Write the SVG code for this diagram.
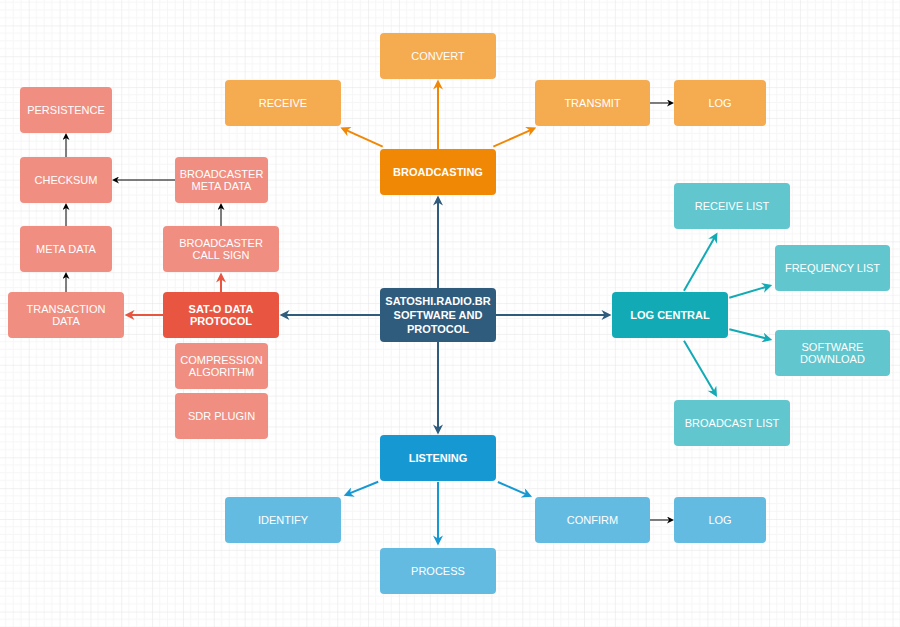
<svg xmlns="http://www.w3.org/2000/svg" width="900" height="627" viewBox="0 0 900 627">
<defs>
  <pattern id="grid" x="28.7" y="25.4" width="30.85" height="30.85" patternUnits="userSpaceOnUse">
    <path d="M7.71 0V30.85M15.42 0V30.85M23.14 0V30.85M0 7.71H30.85M0 15.42H30.85M0 23.14H30.85" stroke="#f6f6f6" stroke-width="1" fill="none"/>
    <path d="M0 0V30.85M0 0H30.85" stroke="#e4e4e4" stroke-width="1" fill="none"/>
  </pattern>
  <marker id="aRed" viewBox="0 0 10 10" markerUnits="userSpaceOnUse" markerWidth="11" markerHeight="10" refX="5" refY="5" orient="auto"><path d="M0,0 L10,5 L0,10 L3,5 Z" fill="#E85642"/></marker>
  <marker id="aDark" viewBox="0 0 10 10" markerUnits="userSpaceOnUse" markerWidth="11" markerHeight="10" refX="5" refY="5" orient="auto"><path d="M0,0 L10,5 L0,10 L3,5 Z" fill="#2F5B7C"/></marker>
  <marker id="aOrange" viewBox="0 0 10 10" markerUnits="userSpaceOnUse" markerWidth="11" markerHeight="10" refX="5" refY="5" orient="auto"><path d="M0,0 L10,5 L0,10 L3,5 Z" fill="#F08705"/></marker>
  <marker id="aTeal" viewBox="0 0 10 10" markerUnits="userSpaceOnUse" markerWidth="11" markerHeight="10" refX="5" refY="5" orient="auto"><path d="M0,0 L10,5 L0,10 L3,5 Z" fill="#12AAB5"/></marker>
  <marker id="aBlue" viewBox="0 0 10 10" markerUnits="userSpaceOnUse" markerWidth="11" markerHeight="10" refX="5" refY="5" orient="auto"><path d="M0,0 L10,5 L0,10 L3,5 Z" fill="#1699D3"/></marker>
  <marker id="aBlack" viewBox="0 0 10 10" markerUnits="userSpaceOnUse" markerWidth="7" markerHeight="7" refX="5" refY="5" orient="auto"><path d="M0,0 L10,5 L0,10 L3,5 Z" fill="#000000"/></marker>
</defs>
<style>
  text { font-family: "Liberation Sans", Arial, Helvetica, sans-serif; font-size: 11px; fill: #ffffff; text-anchor: middle; }
  .b { font-weight: bold; }
  rect { rx: 4px; ry: 4px; }
  .salmon { fill: #F08E81; }
  .red { fill: #E85642; }
  .orl { fill: #F5AB50; }
  .ord { fill: #F08705; }
  .dark { fill: #2F5B7C; }
  .tll { fill: #61C6CE; }
  .tld { fill: #12AAB5; }
  .bll { fill: #64BBE2; }
  .bld { fill: #1699D3; }
  line { fill: none; }
  .cRed { stroke: #E85642; stroke-width: 2; marker-end: url(#aRed); }
  .cDark { stroke: #2F5B7C; stroke-width: 2; marker-end: url(#aDark); }
  .cOrange { stroke: #F08705; stroke-width: 2; marker-end: url(#aOrange); }
  .cTeal { stroke: #12AAB5; stroke-width: 2; marker-end: url(#aTeal); }
  .cBlue { stroke: #1699D3; stroke-width: 2; marker-end: url(#aBlue); }
  .cBlack { stroke: #000000; stroke-width: 1; marker-end: url(#aBlack); }
</style>
<rect x="0" y="0" width="900" height="627" fill="#ffffff" style="rx:0;ry:0"/>
<rect x="0" y="0" width="900" height="627" fill="url(#grid)" style="rx:0;ry:0"/>

<g id="connectors">
  <line class="cBlack" x1="66" y1="157" x2="66" y2="136.5"/>
  <line class="cBlack" x1="66" y1="226" x2="66" y2="206.5"/>
  <line class="cBlack" x1="66" y1="292" x2="66" y2="275.5"/>
  <line class="cBlack" x1="175" y1="180" x2="115.5" y2="180"/>
  <line class="cBlack" x1="221" y1="226" x2="221" y2="206.5"/>
  <line class="cBlack" x1="650" y1="103" x2="670.5" y2="103"/>
  <line class="cBlack" x1="650" y1="520" x2="670.5" y2="520"/>
  <line class="cRed" x1="221" y1="292" x2="221" y2="277.5"/>
  <line class="cRed" x1="163" y1="315" x2="129.5" y2="315"/>
  <line class="cDark" x1="380" y1="315" x2="284.5" y2="315"/>
  <line class="cDark" x1="438" y1="288" x2="438" y2="200.5"/>
  <line class="cDark" x1="438" y1="342" x2="438" y2="429.5"/>
  <line class="cDark" x1="496" y1="315" x2="606.5" y2="315"/>
  <line class="cOrange" x1="438" y1="149" x2="438" y2="84.5"/>
  <line class="cOrange" x1="382.7" y1="146.7" x2="345" y2="129.6"/>
  <line class="cOrange" x1="493.3" y1="146.7" x2="531.7" y2="129.55"/>
  <line class="cTeal" x1="684" y1="290.7" x2="715" y2="236.8"/>
  <line class="cTeal" x1="729.3" y1="297.7" x2="767.4" y2="286.5"/>
  <line class="cTeal" x1="729.3" y1="329.3" x2="767.4" y2="338.7"/>
  <line class="cTeal" x1="684" y1="340.7" x2="714.5" y2="392.6"/>
  <line class="cBlue" x1="378.2" y1="481.7" x2="348.3" y2="493.9"/>
  <line class="cBlue" x1="438" y1="482" x2="438" y2="540.5"/>
  <line class="cBlue" x1="497.9" y1="482" x2="527.45" y2="494.8"/>
</g>

<g id="persistence"><rect class="salmon" x="20" y="87" width="92" height="46"/><text x="66" y="114">PERSISTENCE</text></g>
<g id="checksum"><rect class="salmon" x="20" y="157" width="92" height="46"/><text x="66" y="184">CHECKSUM</text></g>
<g id="broadcaster-meta-data"><rect class="salmon" x="175" y="157" width="93" height="46"/><text x="221.5" y="178">BROADCASTER</text><text x="221.5" y="190.4">META DATA</text></g>
<g id="meta-data"><rect class="salmon" x="20" y="226" width="92" height="46"/><text x="66" y="253">META DATA</text></g>
<g id="broadcaster-call-sign"><rect class="salmon" x="163" y="226" width="116" height="46"/><text x="221" y="247">BROADCASTER</text><text x="221" y="259.4">CALL SIGN</text></g>
<g id="transaction-data"><rect class="salmon" x="8" y="292" width="116" height="46"/><text x="66" y="313">TRANSACTION</text><text x="66" y="325.4">DATA</text></g>
<g id="sat-o-data-protocol"><rect class="red" x="163" y="292" width="116" height="46"/><text class="b" x="221" y="313">SAT-O DATA</text><text class="b" x="221" y="325.4">PROTOCOL</text></g>
<g id="compression-algorithm"><rect class="salmon" x="175" y="343" width="93" height="46"/><text x="221.5" y="364">COMPRESSION</text><text x="221.5" y="376.4">ALGORITHM</text></g>
<g id="sdr-plugin"><rect class="salmon" x="175" y="393" width="93" height="46"/><text x="221.5" y="420">SDR PLUGIN</text></g>

<g id="convert"><rect class="orl" x="380" y="33" width="116" height="46"/><text x="438" y="60">CONVERT</text></g>
<g id="receive"><rect class="orl" x="225" y="80" width="116" height="46"/><text x="283" y="107">RECEIVE</text></g>
<g id="transmit"><rect class="orl" x="535" y="80" width="115" height="46"/><text x="592.5" y="107">TRANSMIT</text></g>
<g id="log-broadcast"><rect class="orl" x="674" y="80" width="92" height="46"/><text x="720" y="107">LOG</text></g>
<g id="broadcasting"><rect class="ord" x="380" y="149" width="116" height="46"/><text class="b" x="438" y="176">BROADCASTING</text></g>

<g id="central"><rect class="dark" x="380" y="288" width="116" height="54"/><text class="b" x="438" y="305">SATOSHI.RADIO.BR</text><text class="b" x="438" y="319">SOFTWARE AND</text><text class="b" x="438" y="333">PROTOCOL</text></g>

<g id="log-central"><rect class="tld" x="612" y="292" width="116" height="46"/><text class="b" x="670" y="319">LOG CENTRAL</text></g>
<g id="receive-list"><rect class="tll" x="674" y="183" width="116" height="46"/><text x="732" y="210">RECEIVE LIST</text></g>
<g id="frequency-list"><rect class="tll" x="775" y="245" width="115" height="46"/><text x="832.5" y="272">FREQUENCY LIST</text></g>
<g id="software-download"><rect class="tll" x="775" y="330" width="115" height="46"/><text x="832.5" y="351">SOFTWARE</text><text x="832.5" y="363.4">DOWNLOAD</text></g>
<g id="broadcast-list"><rect class="tll" x="674" y="400" width="116" height="46"/><text x="732" y="427">BROADCAST LIST</text></g>

<g id="listening"><rect class="bld" x="380" y="435" width="116" height="46"/><text class="b" x="438" y="462">LISTENING</text></g>
<g id="identify"><rect class="bll" x="225" y="497" width="116" height="46"/><text x="283" y="524">IDENTIFY</text></g>
<g id="process"><rect class="bll" x="380" y="548" width="116" height="46"/><text x="438" y="575">PROCESS</text></g>
<g id="confirm"><rect class="bll" x="535" y="497" width="115" height="46"/><text x="592.5" y="524">CONFIRM</text></g>
<g id="log-listen"><rect class="bll" x="674" y="497" width="92" height="46"/><text x="720" y="524">LOG</text></g>
</svg>
